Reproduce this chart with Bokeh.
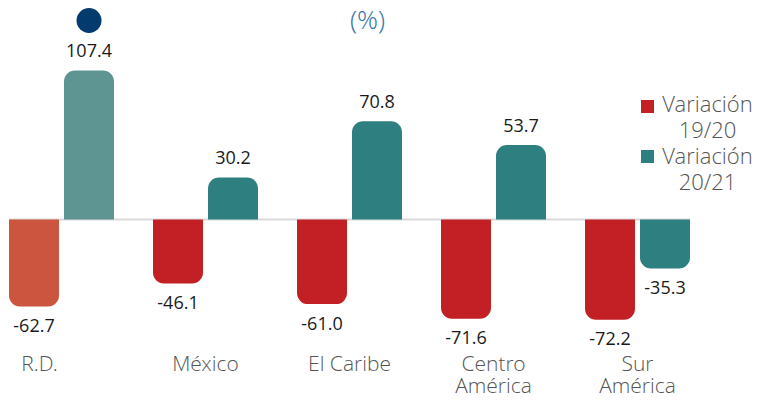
from bokeh.plotting import figure
from bokeh.models import ColumnDataSource, Range1d
from bokeh.core.properties import value
from bokeh.embed import file_html
from bokeh.resources import INLINE

# ---- data ----
categories = ["R.D.", "México", "El Caribe", "Centro\nAmérica", "Sur\nAmérica"]
var_1920 = [-62.7, -46.1, -61.0, -71.6, -72.2]
var_2021 = [107.4, 30.2, 70.8, 53.7, -35.3]
series_names = ["Variación\n19/20", "Variación\n20/21"]

# ---- styles / layout ----
colors_1920 = ["#CC553F", "#C32026", "#C32026", "#C32026", "#C32026"]
colors_2021 = ["#5E9492", "#2E7F80", "#2E7F80", "#2E7F80", "#2E7F80"]
legend_colors = ["#C32026", "#2E7F80"]
FONT = value("Open Sans")
LIGHT = value("'Open Sans Light', 'Lato Light', 'Open Sans'")
W, H = 757, 399
GROUP_PX = 144.0        # pixels per category
FIRST_PX = 61.0         # pixel centre of first category
ZERO_PX = 219.0         # pixel row of the zero line
UNIT_PX = 1.387         # pixels per percentage point
X0 = -FIRST_PX / GROUP_PX
X1 = X0 + W / GROUP_PX
Y1 = ZERO_PX / UNIT_PX
Y0 = -(H - ZERO_PX) / UNIT_PX
BAR_W = 50 / GROUP_PX
OFF = 27.5 / GROUP_PX


def px2x(px):
    return X0 + px / GROUP_PX


def px2y(py):
    return Y1 - py / UNIT_PX


p = figure(width=W, height=H, output_backend="svg", toolbar_location=None,
           x_range=Range1d(X0, X1), y_range=Range1d(Y0, Y1),
           min_border=0, x_axis_location=None, y_axis_location=None)
p.outline_line_color = None
p.xgrid.visible = False
p.ygrid.visible = False
p.background_fill_color = "white"
p.border_fill_color = "white"

# bars data
xs, vals, cols = [], [], []
for i in range(len(categories)):
    xs += [i - OFF, i + OFF]
    vals += [var_1920[i], var_2021[i]]
    cols += [colors_1920[i], colors_2021[i]]

pos = dict(x=[], top=[], bottom=[], color=[], label=[])
neg = dict(x=[], top=[], bottom=[], color=[], label=[])
for x, v, c in zip(xs, vals, cols):
    d = pos if v >= 0 else neg
    d["x"].append(x)
    d["top"].append(max(v, 0))
    d["bottom"].append(min(v, 0))
    d["color"].append(c)
    d["label"].append(f"{v:.1f}")
pos["y"] = pos["top"]
neg["y"] = neg["bottom"]
src_pos = ColumnDataSource(pos)
src_neg = ColumnDataSource(neg)

# zero line
p.segment(x0=[-OFF - BAR_W / 2], x1=[len(categories) - 1 + OFF + BAR_W / 2], y0=[0], y1=[0],
          line_color="#D9D9D9", line_width=2)

p.vbar(x="x", top="top", bottom="bottom", width=BAR_W, fill_color="color",
       line_color=None, source=src_pos, border_radius=(11, 11, 0, 0))
p.vbar(x="x", top="top", bottom="bottom", width=BAR_W, fill_color="color",
       line_color=None, source=src_neg, border_radius=(0, 0, 11, 11))

# value labels
p.text(x="x", y="y", text="label", source=src_pos, y_offset=-20,
       text_align="center", text_baseline="middle", text_font=FONT,
       text_font_size="18px", text_color="#1A1A1A")
p.text(x="x", y="y", text="label", source=src_neg, y_offset=19,
       text_align="center", text_baseline="middle", text_font=FONT,
       text_font_size="18px", text_color="#1A1A1A")

# category labels
cat_src = ColumnDataSource(dict(x=list(range(len(categories))), y=[0] * len(categories),
                                text=categories, xo=[-22, 0, 0, 0, 0]))
p.text(x="x", y="y", text="text", x_offset="xo", y_offset=129, source=cat_src,
       text_align="center", text_baseline="top", text_font=LIGHT,
       text_font_size="21px", text_color="#555555", text_line_height=0.81)

# highlight dot above R.D.
p.scatter(x=[0 + OFF], y=[px2y(20)], size=25, marker="circle",
          fill_color="#033B6F", line_color=None)

# title "(%)"
p.text(x=[px2x(367)], y=[px2y(18)], text=["(%)"], text_align="center",
       text_baseline="middle", text_font=LIGHT, text_font_size="26px",
       text_color="#3C78AA")

# legend
p.scatter(x=[px2x(647)] * 2, y=[px2y(106), px2y(156)], size=13, marker="square",
          fill_color=legend_colors, line_color=None)
p.text(x=[px2x(707)] * 2, y=[px2y(87), px2y(139)], text=series_names,
       text_align="center", text_baseline="top", text_font=LIGHT,
       text_font_size="22px", text_color="#555555", text_line_height=0.87)

open("out.html", "w").write(file_html(p, INLINE))
